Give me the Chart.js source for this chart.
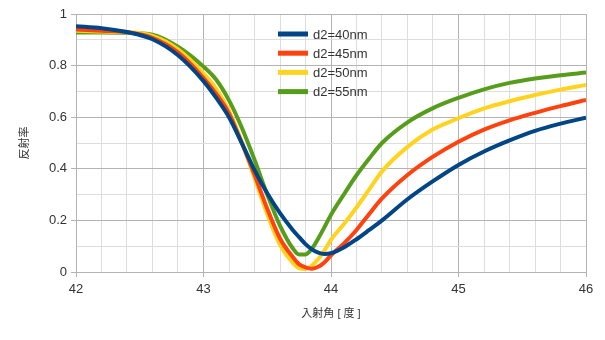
<!DOCTYPE html>
<html>
<head>
<meta charset="utf-8">
<script src="https://cdn.jsdelivr.net/npm/chart.js@4.4.1/dist/chart.umd.min.js"></script>
<style>
html,body{margin:0;padding:0;background:#fff;}
#wrap{width:605px;height:340px;position:relative;}
</style>
</head>
<body>
<div id="wrap"><canvas id="c" width="605" height="340"></canvas></div>
<script>
// incidence angle (degrees)
const angles = [42.0, 42.2, 42.4, 42.6, 42.8, 43.0, 43.1, 43.2, 43.3, 43.4, 43.5, 43.6, 43.7, 43.75, 43.8, 43.85, 43.9, 43.95, 44.0, 44.1, 44.2, 44.3, 44.4, 44.6, 44.8, 45.0, 45.2, 45.4, 45.6, 45.8, 46.0];
// reflectance series
const d2_40 = [0.953, 0.945, 0.930, 0.902, 0.840, 0.740, 0.675, 0.600, 0.500, 0.395, 0.305, 0.228, 0.163, 0.135, 0.108, 0.088, 0.075, 0.070, 0.073, 0.095, 0.127, 0.163, 0.200, 0.282, 0.352, 0.415, 0.467, 0.510, 0.547, 0.575, 0.598];
const d2_45 = [0.940, 0.935, 0.930, 0.908, 0.851, 0.752, 0.690, 0.615, 0.500, 0.378, 0.245, 0.130, 0.058, 0.030, 0.018, 0.013, 0.020, 0.038, 0.065, 0.110, 0.163, 0.225, 0.285, 0.376, 0.447, 0.505, 0.552, 0.588, 0.617, 0.643, 0.667];
const d2_50 = [0.935, 0.932, 0.930, 0.915, 0.863, 0.770, 0.710, 0.625, 0.505, 0.365, 0.225, 0.105, 0.035, 0.015, 0.012, 0.025, 0.050, 0.085, 0.125, 0.185, 0.250, 0.320, 0.390, 0.485, 0.553, 0.596, 0.634, 0.662, 0.686, 0.707, 0.725];
const d2_55 = [0.928, 0.928, 0.927, 0.920, 0.873, 0.796, 0.745, 0.665, 0.560, 0.435, 0.300, 0.180, 0.092, 0.068, 0.068, 0.090, 0.130, 0.175, 0.222, 0.300, 0.375, 0.440, 0.500, 0.580, 0.635, 0.675, 0.708, 0.733, 0.750, 0.763, 0.773];
const seriesLabels = ["d2=40nm", "d2=45nm", "d2=50nm", "d2=55nm"];
const seriesColors = ["#004586", "#ff420e", "#ffd320", "#579d1c"];
const yTitle = "反射率";
const xTitle = "入射角 [ 度 ]";

const FONT = "'Liberation Sans', Arial, 'Noto Sans CJK JP', sans-serif";
const MAJOR = "#b3b3b3", MINOR = "#dddddd";

const allSeries = [d2_40, d2_45, d2_50, d2_55];
const datasets = allSeries.map((arr, i) => ({
  label: seriesLabels[i],
  data: angles.map((a, j) => ({x: a, y: arr[j]})),
  borderColor: seriesColors[i],
  backgroundColor: seriesColors[i],
  borderWidth: 4,
  pointRadius: 0,
  fill: false,
  cubicInterpolationMode: 'monotone'
}));

const legendPlugin = {
  id: 'inLegend',
  afterDatasetsDraw(chart) {
    const ctx = chart.ctx;
    ctx.save();
    ctx.font = "13px " + FONT;
    ctx.textBaseline = 'middle';
    ctx.fillStyle = '#333333';
    chart.data.datasets.forEach((ds, i) => {
      const y = 34 + i * 19.2;
      ctx.strokeStyle = ds.borderColor;
      ctx.lineWidth = 5;
      ctx.beginPath();
      ctx.moveTo(278, y);
      ctx.lineTo(308, y);
      ctx.stroke();
      ctx.fillText(ds.label, 313, y + 1);
    });
    ctx.restore();
  }
};

const isMajorX = v => Math.abs(v - Math.round(v)) < 1e-6;
const isMajorY = v => Math.abs(v * 5 - Math.round(v * 5)) < 1e-6;

new Chart(document.getElementById('c'), {
  type: 'line',
  data: {datasets},
  plugins: [legendPlugin],
  options: {
    responsive: false,
    animation: false,
    layout: {padding: {left: 0, top: 14, right: 19, bottom: 0}},
    plugins: {legend: {display: false}, tooltip: {enabled: false}},
    scales: {
      x: {
        type: 'linear', min: 42, max: 46,
        afterFit(s) { s.height = 68; },
        ticks: {
          stepSize: 0.2, padding: 5, color: '#333333',
          font: {family: FONT, size: 13},
          maxRotation: 0, autoSkip: false,
          callback: v => isMajorX(v) ? String(Math.round(v)) : ''
        },
        grid: {
          color: c => isMajorX(c.tick.value) ? MAJOR : MINOR,
          tickColor: c => isMajorX(c.tick.value) ? MAJOR : 'rgba(0,0,0,0)',
          tickLength: 5, lineWidth: 1
        },
        border: {color: MAJOR},
        title: {display: true, text: xTitle, color: '#333333',
          font: {family: FONT, size: 11}, padding: {top: 0, bottom: 19}}
      },
      y: {
        type: 'linear', min: 0, max: 1,
        afterFit(s) { s.width = 76; },
        ticks: {
          stepSize: 0.1, padding: 4, color: '#333333',
          font: {family: FONT, size: 13},
          callback: v => {
            if (!isMajorY(v)) return '';
            const r = Math.round(v * 10) / 10;
            return (r === 0 || r === 1) ? String(r) : r.toFixed(1);
          }
        },
        grid: {
          color: c => isMajorY(c.tick.value) ? MAJOR : MINOR,
          tickColor: c => isMajorY(c.tick.value) ? MAJOR : 'rgba(0,0,0,0)',
          tickLength: 5, lineWidth: 1
        },
        border: {color: MAJOR},
        title: {display: true, text: yTitle, color: '#333333',
          font: {family: FONT, size: 11}, padding: {top: 18, bottom: 0}}
      }
    }
  }
});
</script>
</body>
</html>
